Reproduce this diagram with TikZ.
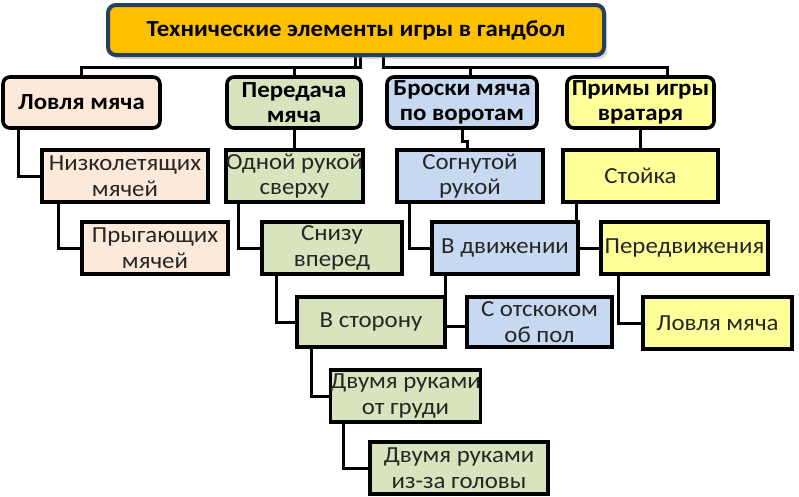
\documentclass[tikz,border=0pt]{standalone}
\usepackage{fontspec}
\setmainfont{Carlito}[FakeStretch=1.08, BoldFeatures={FakeStretch=1.08}]
\usepackage{xcolor}
\usetikzlibrary{positioning,shadows,backgrounds}
\definecolor{titlefill}{HTML}{FFC000}
\definecolor{titledraw}{HTML}{254061}
\definecolor{catchfill}{HTML}{FDE9D9}
\definecolor{passfill}{HTML}{D7E4BD}
\definecolor{shotfill}{HTML}{C6D9F1}
\definecolor{keepfill}{HTML}{FFFF99}

\begin{document}
\begin{tikzpicture}[
  x=1pt, y=-1pt,
  font=\fontsize{23}{25.5}\selectfont,
  title/.style={rectangle, rounded corners=8pt, draw=titledraw, line width=4pt, fill=titlefill, minimum width=496pt, minimum height=50pt, font=\fontsize{23}{25}\selectfont\bfseries, drop shadow={shadow xshift=3pt, shadow yshift=-4pt, opacity=0.3}},
  topbox/.style={rectangle, rounded corners=7pt, draw, line width=3.6pt, minimum height=51pt, align=center, inner sep=0pt, font=\fontsize{23}{25}\selectfont\bfseries},
  subbox/.style={rectangle, draw, line width=3.2pt, minimum height=52pt, align=center, inner sep=0pt, text=black!85},
  link/.style={line width=3pt},
]
  \useasboundingbox (0,0) rectangle (799,496);

  \node[title] (title) at (356,30) {Технические элементы игры в гандбол};

  % first level
  \node[topbox, fill=catchfill, minimum width=157pt] (catch) at (81.5,102.5) {Ловля мяча};
  \node[topbox, fill=passfill, minimum width=134pt] (pass) at (294,102.5) {Передача\\мяча};
  \node[topbox, fill=shotfill, minimum width=150pt] (shot) at (462,102.5) {Броски мяча\\по воротам};
  \node[topbox, fill=keepfill, minimum width=147pt] (keep) at (640.5,102.5) {Примы игры\\вратаря};

  % catching
  \node[subbox, fill=catchfill, minimum width=166pt] (low) at (125,176) {Низколетящих\\мячей};
  \node[subbox, fill=catchfill, minimum width=146pt] (jump) at (155,248) {Прыгающих\\мячей};

  % passing
  \node[subbox, fill=passfill, minimum width=131pt] (over) at (294.5,176) {Одной рукой\\сверху};
  \node[subbox, fill=passfill, minimum width=140pt] (under) at (332,248) {Снизу\\вперед};
  \node[subbox, fill=passfill, minimum width=148pt, minimum height=50pt] (side) at (371,322) {В сторону};
  \node[subbox, fill=passfill, minimum width=145pt] (chest) at (405.5,396) {Двумя руками\\от груди};
  \node[subbox, fill=passfill, minimum width=178pt] (head) at (459,468) {Двумя руками\\из-за головы};

  % shooting
  \node[subbox, fill=shotfill, minimum width=146pt] (bent) at (470,176) {Согнутой\\рукой};
  \node[subbox, fill=shotfill, minimum width=146pt] (move) at (505,248) {В движении};
  \node[subbox, fill=shotfill, minimum width=145pt, minimum height=50pt] (bounce) at (539.5,322) {С отскоком\\об пол};

  % goalkeeper
  \node[subbox, fill=keepfill, minimum width=155pt] (stance) at (640.5,176) {Стойка};
  \node[subbox, fill=keepfill, minimum width=167pt] (steps) at (684.5,248) {Передвижения};
  \node[subbox, fill=keepfill, minimum width=149pt] (save) at (717.5,323) {Ловля мяча};

  \begin{scope}[on background layer]
    \coordinate (bus) at (0,67);
    \draw[link] ([xshift=-1pt]title.south) -- ([xshift=-1pt]title.south |- bus) -| (catch.north);
    \draw[link] ([xshift=4pt]title.south) -- ([xshift=4pt]title.south |- bus) -| (pass.north);
    \draw[link] ([xshift=27pt]title.south) -- ([xshift=27pt]title.south |- bus) -| ([xshift=8pt]shot.north);
    \draw[link] ([xshift=27pt]title.south |- bus) -| ([xshift=27pt]keep.north);

    \draw[link] ([xshift=17pt]catch.south west) |- (low.west);
    \draw[link] ([xshift=18pt]low.south west) |- (jump.west);

    \draw[link] (pass.south) -- (pass.south |- over.north);
    \draw[link] ([xshift=14pt]over.south west) |- (under.west);
    \draw[link] ([xshift=16pt]under.south west) |- (side.west);
    \draw[link] ([xshift=16pt]side.south west) |- (chest.west);
    \draw[link] ([xshift=15pt]chest.south west) |- (head.west);

    \draw[link] (shot.south) -- ++(0,12) -| ([xshift=-3pt]bent.north);
    \draw[link] ([xshift=14pt]bent.south west) |- (move.west);
    \draw[link] ([xshift=15pt]move.south west) |- ([yshift=-4pt]bounce.west);

    \draw[link] (keep.south) -- (keep.south |- stance.north);
    \draw[link] ([xshift=15pt]stance.south west) |- (steps.west);
    \draw[link] ([xshift=19pt]steps.south west) |- (save.west);
  \end{scope}
\end{tikzpicture}
\end{document}
